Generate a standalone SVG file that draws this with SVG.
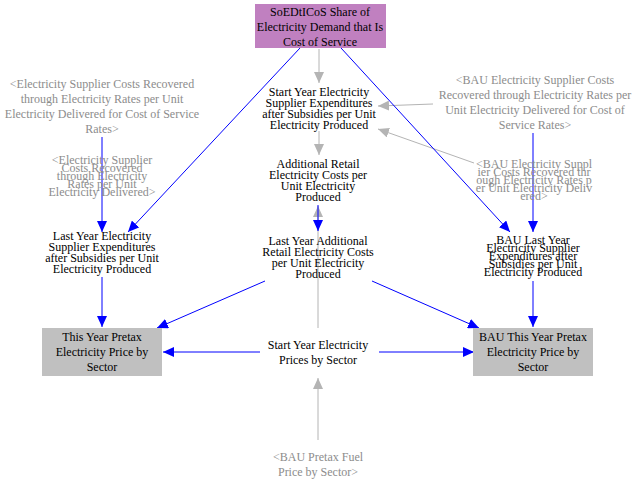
<svg xmlns="http://www.w3.org/2000/svg" width="632" height="481" viewBox="0 0 632 481">
<style>
text{font-family:"Liberation Serif","Times New Roman",serif;font-size:12px;text-anchor:middle;fill:#000}
.g{fill:#8c8c8c}
.b{stroke:#0000ff;stroke-width:1;fill:none}
.gl{stroke:#b4b4b4;stroke-width:1;fill:none}
</style>
<defs>
<marker id="ab" markerUnits="userSpaceOnUse" markerWidth="12" markerHeight="10" refX="11" refY="5" orient="auto"><path d="M0,0 L11,5 L0,10 Z" fill="#0000ff"/></marker>
<marker id="ag" markerUnits="userSpaceOnUse" markerWidth="12" markerHeight="10" refX="11" refY="5" orient="auto"><path d="M0,0 L11,5 L0,10 Z" fill="#b4b4b4"/></marker>
</defs>
<rect width="632" height="481" fill="#fff"/>
<g id="connectors">
<line class="gl" x1="319" y1="49" x2="319" y2="83" marker-end="url(#ag)"/>
<line class="gl" x1="319" y1="131" x2="319" y2="155" marker-end="url(#ag)"/>
<line class="gl" x1="318" y1="328" x2="318" y2="206" marker-end="url(#ag)"/>
<line class="gl" x1="318" y1="440" x2="318" y2="378" marker-end="url(#ag)"/>
<line class="gl" x1="433" y1="104" x2="378" y2="106" marker-end="url(#ag)"/>
<line class="gl" x1="474" y1="163" x2="378" y2="129" marker-end="url(#ag)"/>
<line class="b" x1="102" y1="137" x2="102" y2="232" marker-end="url(#ab)"/>
<line class="b" x1="300" y1="48" x2="128" y2="232" marker-end="url(#ab)"/>
<line class="b" x1="341" y1="48" x2="510" y2="232" marker-end="url(#ab)"/>
<line class="b" x1="533" y1="133" x2="533" y2="232" marker-end="url(#ab)"/>
<line class="b" x1="318" y1="205" x2="318" y2="231" marker-end="url(#ab)"/>
<line class="b" x1="102" y1="277" x2="102" y2="327" marker-end="url(#ab)"/>
<line class="b" x1="533" y1="281" x2="533" y2="327" marker-end="url(#ab)"/>
<line class="b" x1="265" y1="281" x2="157" y2="328" marker-end="url(#ab)"/>
<line class="b" x1="372" y1="281" x2="479" y2="328" marker-end="url(#ab)"/>
<line class="b" x1="260" y1="352" x2="163" y2="352" marker-end="url(#ab)"/>
<line class="b" x1="379" y1="352" x2="474" y2="352" marker-end="url(#ab)"/>
</g>
<g id="soedticos">
<rect x="255" y="4" width="131" height="44" fill="#c080c0"/>
<text x="320" y="16">SoEDtICoS Share of</text>
<text x="320" y="31">Electricity Demand that Is</text>
<text x="320" y="46">Cost of Service</text>
</g>
<g id="esc-cos">
<text class="g" x="102" y="88">&lt;Electricity Supplier Costs Recovered</text>
<text class="g" x="102" y="103">through Electricity Rates per Unit</text>
<text class="g" x="102" y="118">Electricity Delivered for Cost of Service</text>
<text class="g" x="102" y="133">Rates&gt;</text>
</g>
<g id="esc">
<text class="g" x="102" y="164">&lt;Electricity Supplier</text>
<text class="g" x="102" y="172">Costs Recovered</text>
<text class="g" x="102" y="180">through Electricity</text>
<text class="g" x="102" y="188">Rates per Unit</text>
<text class="g" x="102" y="196">Electricity Delivered&gt;</text>
</g>
<g id="last-year-exp">
<text x="102" y="240">Last Year Electricity</text>
<text x="102" y="251">Supplier Expenditures</text>
<text x="102" y="262">after Subsidies per Unit</text>
<text x="102" y="273">Electricity Produced</text>
</g>
<g id="this-year-price">
<rect x="42" y="328" width="120" height="48" fill="#c0c0c0"/>
<text x="102" y="341">This Year Pretax</text>
<text x="102" y="356">Electricity Price by</text>
<text x="102" y="371">Sector</text>
</g>
<g id="start-year-exp">
<text x="319" y="96">Start Year Electricity</text>
<text x="319" y="107">Supplier Expenditures</text>
<text x="319" y="118">after Subsidies per Unit</text>
<text x="319" y="129">Electricity Produced</text>
</g>
<g id="additional-retail">
<text x="318" y="168">Additional Retail</text>
<text x="318" y="179">Electricity Costs per</text>
<text x="318" y="190">Unit Electricity</text>
<text x="318" y="201">Produced</text>
</g>
<g id="last-year-additional">
<text x="318" y="245">Last Year Additional</text>
<text x="318" y="256">Retail Electricity Costs</text>
<text x="318" y="267">per Unit Electricity</text>
<text x="318" y="278">Produced</text>
</g>
<g id="start-year-prices">
<text x="318" y="349">Start Year Electricity</text>
<text x="318" y="364">Prices by Sector</text>
</g>
<g id="bau-pretax-fuel">
<text class="g" x="318" y="461">&lt;BAU Pretax Fuel</text>
<text class="g" x="318" y="476">Price by Sector&gt;</text>
</g>
<g id="bau-esc-cos">
<text class="g" x="535" y="84">&lt;BAU Electricity Supplier Costs</text>
<text class="g" x="535" y="99">Recovered through Electricity Rates per</text>
<text class="g" x="535" y="114">Unit Electricity Delivered for Cost of</text>
<text class="g" x="535" y="129">Service Rates&gt;</text>
</g>
<g id="bau-esc">
<text class="g" x="534" y="168">&lt;BAU Electricity Suppl</text>
<text class="g" x="534" y="176">ier Costs Recovered thr</text>
<text class="g" x="534" y="184">ough Electricity Rates p</text>
<text class="g" x="534" y="192">er Unit Electricity Deliv</text>
<text class="g" x="534" y="200">ered&gt;</text>
</g>
<g id="bau-last-year">
<text x="533" y="244">BAU Last Year</text>
<text x="533" y="252">Electricity Supplier</text>
<text x="533" y="260">Expenditures after</text>
<text x="533" y="268">Subsidies per Unit</text>
<text x="533" y="276">Electricity Produced</text>
</g>
<g id="bau-this-year-price">
<rect x="473" y="328" width="120" height="48" fill="#c0c0c0"/>
<text x="533" y="341">BAU This Year Pretax</text>
<text x="533" y="356">Electricity Price by</text>
<text x="533" y="371">Sector</text>
</g>
</svg>
